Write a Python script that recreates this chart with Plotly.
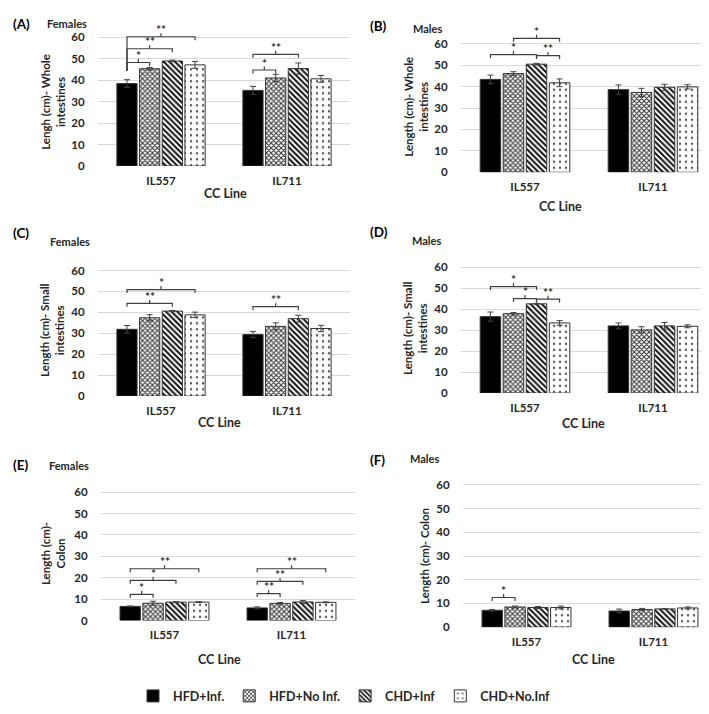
import plotly.graph_objects as go

W, H = 709, 714

# ---------------- data ----------------
groups = ["IL557", "IL711"]
series = ["HFD+Inf.", "HFD+No Inf.", "CHD+Inf", "CHD+No.Inf"]

# (A) Females, whole intestines  -- rows: series, cols: groups
A_mean = [[38.4, 35.2], [45.3, 41.0], [48.9, 45.4], [47.1, 40.6]]
A_err = [[1.8, 1.9], [0.6, 1.7], [0.4, 2.6], [1.6, 1.6]]
# (B) Males, whole intestines
B_mean = [[43.4, 38.6], [46.1, 37.3], [50.5, 39.7], [41.8, 39.9]]
B_err = [[2.0, 2.2], [0.9, 1.9], [0.4, 1.4], [1.8, 1.0]]
# (C) Females, small intestines
C_mean = [[31.9, 29.4], [37.4, 33.3], [40.6, 37.0], [38.8, 32.3]]
C_err = [[1.8, 1.5], [1.5, 1.7], [0.3, 1.6], [1.3, 1.5]]
# (D) Males, small intestines
D_mean = [[36.4, 32.0], [37.8, 30.1], [42.5, 32.0], [33.4, 31.8]]
D_err = [[2.2, 1.4], [0.6, 1.5], [0.2, 1.6], [1.1, 0.7]]
# (E) Females, colon
E_mean = [[6.6, 5.9], [8.1, 8.0], [8.6, 8.7], [8.6, 8.5]]
E_err = [[0.2, 0.5], [0.9, 0.4], [0.2, 0.7], [0.2, 0.2]]
# (F) Males, colon
F_mean = [[7.1, 6.8], [8.5, 7.4], [8.3, 7.7], [8.3, 8.1]]
F_err = [[0.3, 0.8], [0.4, 0.5], [0.4, 0.1], [0.6, 0.4]]

# significance brackets: (group, from series, to series, level, label, left end drops to)
A_br = [(0, 0, 1, 48.2, "*", 44.3), (0, 0, 2, 54.6, "**", 44.3), (0, 0, 3, 60.2, "**", 44.3),
        (1, 0, 1, 44.7, "*", None), (1, 0, 2, 52.0, "**", None)]
B_br = [(0, 0, 2, 55.0, "*", None), (0, 2, 3, 54.5, "**", None), (0, 1, 3, 62.6, "*", None)]
C_br = [(0, 0, 2, 44.3, "**", None), (0, 0, 3, 50.9, "*", None), (1, 0, 2, 42.7, "**", None)]
D_br = [(0, 0, 2, 50.7, "*", None), (0, 1, 2, 45.0, "*", None), (0, 2, 3, 44.7, "**", None)]
E_br = [(0, 0, 1, 12.2, "*", None), (0, 0, 2, 18.8, "*", None), (0, 0, 3, 24.2, "**", None),
        (1, 0, 1, 12.6, "**", None), (1, 0, 2, 18.3, "**", None), (1, 0, 3, 24.2, "**", None)]
F_br = [(0, 0, 1, 12.5, "*", None)]

panel_tags = ["(A)", "(B)", "(C)", "(D)", "(E)", "(F)"]
panel_sex = ["Females", "Males", "Females", "Males", "Females", "Males"]
y_titles = ["Lengh (cm)- Whole<br>intestines", "Length (cm)- Whole<br>intestines",
            "Length (cm)- Small<br>intestines", "Length (cm)- Small<br>intestines",
            "Length (cm)-<br>Colon", "Length (cm)- Colon"]
x_title = "CC Line"
y_ticks = [0, 10, 20, 30, 40, 50, 60]

# ---------------- layout geometry (pixels) ----------------
# x0, x1 of plot area, pixel of value 0, px per unit, y-range max
geom = [
    (90, 342, 157.0, 2.175, 66),
    (453, 709, 163.3, 2.167, 68),
    (90, 342, 390.0, 2.12, 62),
    (453, 709, 387.0, 2.128, 62),
    (93, 347, 617.3, 2.167, 62),
    (455, 709, 624.0, 2.40, 62),
]
tag_pos = [(3, 13, 37, 13), (360, 15, 403, 18), (3, 225, 40, 233),
           (360, 224, 402, 232), (3, 460, 39, 460), (360, 455, 400, 453)]
ytitle_pos = [(45, 92), (408, 97), (44, 324), (407, 322), (45, 550), (416, 552)]
xtitle_pos = [(217, 185), (552, 198), (212, 417), (575, 418), (212, 657), (585, 657)]

means = [A_mean, B_mean, C_mean, D_mean, E_mean, F_mean]
errs = [A_err, B_err, C_err, D_err, E_err, F_err]
brackets = [A_br, B_br, C_br, D_br, E_br, F_br]

BARGAP = 0.28
BARGROUPGAP = 0.11
FONT = "Lato"
TXT = "#262626"

styles = [
    dict(color="#000000"),
    dict(color="#ffffff", pattern=dict(shape="x", fgcolor="#333333", bgcolor="#ffffff",
                                       size=3.5, solidity=0.5, fillmode="replace")),
    dict(color="#ffffff", pattern=dict(shape="\\", fgcolor="#111111", bgcolor="#ffffff",
                                       size=4, solidity=0.5, fillmode="replace")),
    dict(color="#ffffff", pattern=dict(shape=".", fgcolor="#555555", bgcolor="#ffffff",
                                       size=6, solidity=0.12, fillmode="replace")),
]

fig = go.Figure()
layout = dict(width=W, height=H, margin=dict(l=0, r=0, t=0, b=0),
              paper_bgcolor="white", plot_bgcolor="white",
              barmode="group", bargap=BARGAP, bargroupgap=BARGROUPGAP,
              font=dict(family=FONT, color=TXT))
shapes, annos = [], []

gx = list(range(len(groups)))


def px2x(p):
    return p / W


def px2y(p):
    return 1 - p / H


for k in range(6):
    ax = "" if k == 0 else str(k + 1)
    x0, x1, y0p, ppu, ymax = geom[k]
    ytop = y0p - ymax * ppu
    for i, s in enumerate(series):
        st = styles[i]
        marker = dict(color=st["color"], line=dict(color="#333333", width=1))
        if "pattern" in st:
            marker["pattern"] = st["pattern"]
        fig.add_trace(go.Bar(
            x=gx, y=means[k][i], name=s, marker=marker,
            error_y=dict(type="data", array=errs[k][i], color="#404040", thickness=1, width=3),
            xaxis="x" + ax, yaxis="y" + ax, legendgroup=s, showlegend=(k == 0)))
    layout["xaxis" + ax] = dict(
        domain=[px2x(x0), px2x(x1)], anchor="y" + ax, range=[-0.5, len(groups) - 0.5],
        tickvals=gx, ticktext=groups, showgrid=False, zeroline=False, showline=False,
        ticks="", ticklen=0, ticklabelstandoff=6,
        tickfont=dict(size=11.5, family=FONT, color=TXT, weight="bold"))
    layout["yaxis" + ax] = dict(
        domain=[px2y(y0p), px2y(ytop)], anchor="x" + ax, range=[0, ymax],
        tickvals=y_ticks, showgrid=True, gridcolor="#d9d9d9", gridwidth=1,
        zeroline=False, showline=False, ticks="outside", ticklen=10,
        tickcolor="rgba(0,0,0,0)",
        tickfont=dict(size=11.5, family=FONT, color=TXT, weight="bold"))

    # brackets
    slot = (1 - BARGAP) / len(series)
    t = 3.5 / ppu
    for (g, a, b, lvl, lab, drop) in brackets[k]:
        xa = g + (a - 1.5) * slot
        xb = g + (b - 1.5) * slot
        xm = (xa + xb) / 2
        ya = drop if drop is not None else lvl - t
        path = (f"M{xa},{ya} L{xa},{lvl} L{xb},{lvl} L{xb},{lvl - t} "
                f"M{xm},{lvl} L{xm},{lvl + t}")
        shapes.append(dict(type="path", path=path, xref="x" + ax, yref="y" + ax,
                           line=dict(color="#404040", width=1.2)))
        annos.append(dict(x=xm, y=lvl, xref="x" + ax, yref="y" + ax, text=lab,
                          showarrow=False, yanchor="middle", yshift=7,
                          font=dict(size=12, family=FONT, color="#333333", weight="bold")))

    # panel tag and sex
    tx, ty, sx, sy = tag_pos[k]
    annos.append(dict(x=px2x(tx), y=px2y(ty), xref="paper", yref="paper", text=panel_tags[k],
                      showarrow=False, xanchor="left", yanchor="middle",
                      font=dict(size=13.5, family=FONT, color="#000000", weight="bold")))
    annos.append(dict(x=px2x(sx), y=px2y(sy), xref="paper", yref="paper", text=panel_sex[k],
                      showarrow=False, xanchor="left", yanchor="middle",
                      font=dict(size=11, family=FONT, color=TXT, weight="bold")))
    # y title
    yx, yy = ytitle_pos[k]
    annos.append(dict(x=px2x(yx), y=px2y(yy), xref="paper", yref="paper", text=y_titles[k],
                      textangle=-90, showarrow=False, xanchor="center", yanchor="middle",
                      font=dict(size=11.5, family=FONT, color=TXT, weight="bold")))
    # x title
    xx, xy = xtitle_pos[k]
    annos.append(dict(x=px2x(xx), y=px2y(xy), xref="paper", yref="paper", text=x_title,
                      showarrow=False, xanchor="center", yanchor="middle",
                      font=dict(size=12.5, family=FONT, color=TXT, weight="bold")))

layout["shapes"] = shapes
layout["annotations"] = annos
layout["legend"] = dict(orientation="h", x=px2x(125), y=px2y(694), xanchor="left",
                        yanchor="middle", bgcolor="rgba(0,0,0,0)",
                        font=dict(size=12.5, family=FONT, color=TXT, weight="bold"),
                        itemwidth=30, traceorder="normal")
fig.update_layout(**layout)
fig.write_html("out.html")
